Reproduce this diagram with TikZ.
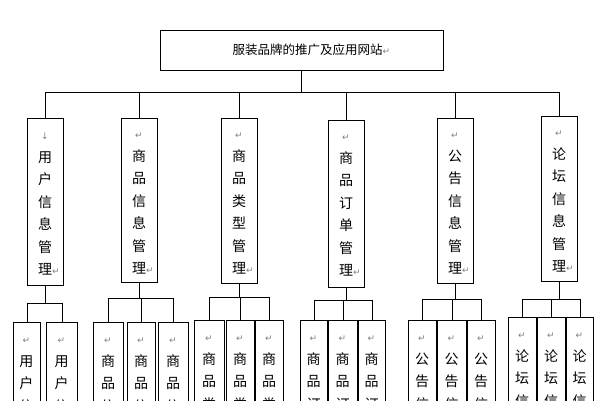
\documentclass[tikz,border=0pt]{standalone}
\usepackage{fontspec}
\newfontfamily\cjk{Noto Sans CJK SC}
\newfontfamily\djf{DejaVu Sans}
\newcommand{\rt}{{\djf\color{gray}\fontsize{9}{9}\selectfont ↵}}
\newcommand{\rtr}{\rlap{\rt}}
\begin{document}
\begin{tikzpicture}[x=1pt,y=-1pt,
  bx/.style={draw,line width=0.9pt},
  ln/.style={draw,line width=0.9pt},
  vt/.style={anchor=north,align=center,font=\cjk\fontsize{14}{22.5}\selectfont,inner sep=0pt}]
\useasboundingbox (0,0) rectangle (615,400);
\clip (0,0) rectangle (615,400);
\fill[white] (0,0) rectangle (615,400);
% top
\node[bx,minimum width=283pt,minimum height=40pt,inner sep=0pt] (top) at (301.5,50) {};
\node[font=\cjk\fontsize{12.5}{14}\selectfont] (toptxt) at (top.center) {\hspace{20pt}服装品牌的推广及应用网站\rt};
\coordinate (bus) at (301.5,92);
\draw[ln] (top.south) -- (bus);
\draw[ln] (45,92) -- (559,92);
% level 2
\foreach \n/\l/\t/\b/\txt in {
 a/27/118/285/{{\djf\color{gray}\fontsize{9}{9}\selectfont ↓}\\用\\户\\信\\息\\管\\理\rtr},
 b/121/118/282/{\rt\\商\\品\\信\\息\\管\\理\rtr},
 c/221/118/283/{\rt\\商\\品\\类\\型\\管\\理\rtr},
 d/328/120/287/{\rt\\商\\品\\订\\单\\管\\理\rtr},
 e/437/118/283/{\rt\\公\\告\\信\\息\\管\\理\rtr},
 f/541/116/281/{\rt\\论\\坛\\信\\息\\管\\理\rtr}}{
  \node[bx,minimum width=36pt,minimum height={\b-\t},inner sep=0pt] (\n) at ({\l+18},{(\t+\b)/2}) {};
  \node[vt] (\n t) at ({\l+18},{\t+15}) {\txt};
  \draw[ln] (\n.north) -- (\n.north |- bus);
}
% level 3
\foreach \p/\y/\tp/\k/\txt/\list in {
 a/303/322/2/{\rt\\用\\户\\信}/{13/40,46/77},
 b/298/322/3/{\rt\\商\\品\\信}/{93/123,127/155,158/188},
 c/297/320/3/{\rt\\商\\品\\类}/{194/224,226/254,255/283},
 d/300/320/3/{\rt\\商\\品\\订}/{300/327,328/357,358/385},
 e/299/320/3/{\rt\\公\\告\\信}/{408/436,437/466,467/495},
 f/299/317/3/{\rt\\论\\坛\\信}/{508/536,537/565,566/593}}{
  \coordinate (\p bus) at (\p.south |- 0,\y);
  \draw[ln] (\p.south) -- (\p bus);
  \foreach \l/\r [count=\i] in \list {
    \node[bx,anchor=north west,minimum width={\r-\l},minimum height=120pt,inner sep=0pt] (\p\i) at (\l,\tp) {};
    \node[vt] (\p\i t) at ({(\l+\r)/2},{\tp+16}) {\txt};
    \draw[ln] (\p\i.north) -- (\p\i.north |- \p bus);
  }
  \draw[ln] (\p1.north |- \p bus) -- (\p\k.north |- \p bus);
}
\end{tikzpicture}
\end{document}
